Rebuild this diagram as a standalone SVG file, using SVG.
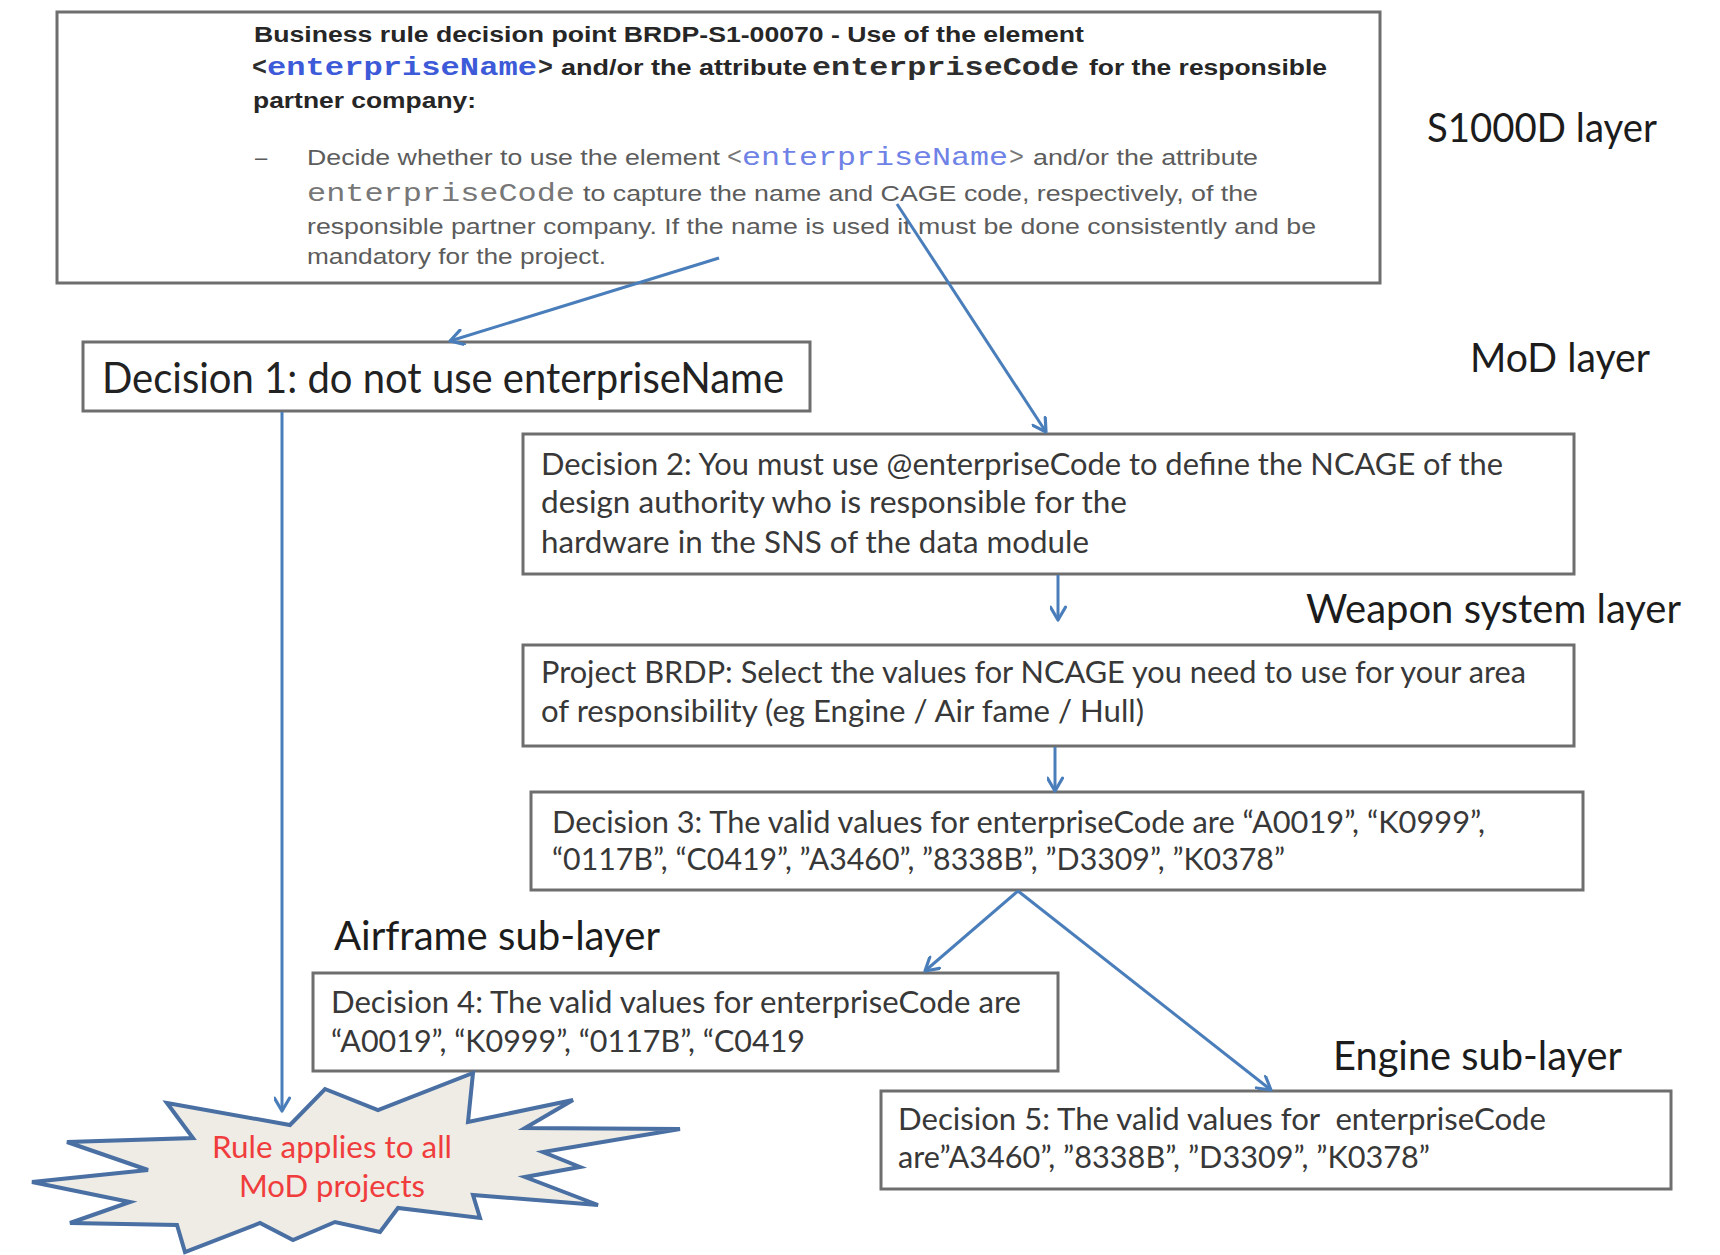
<svg xmlns="http://www.w3.org/2000/svg" width="1720" height="1255" viewBox="0 0 1720 1255">
  <style>
    .box { fill: #ffffff; stroke: #6e6e6e; stroke-width: 3; }
    .layer { font-family: Lato, "Open Sans", "Liberation Sans", sans-serif; font-size: 41px; fill: #1c1c1c; }
    .dec { font-family: Lato, "Open Sans", "Liberation Sans", sans-serif; font-size: 31px; fill: #383838; }
    .big { font-family: Lato, "Open Sans", "Liberation Sans", sans-serif; font-size: 42px; fill: #222222; }
    .bold { font-family: "Liberation Sans", Arial, sans-serif; font-size: 22px; font-weight: bold; fill: #262626; }
    .monob { font-family: "Liberation Mono", "Courier New", monospace; font-size: 25px; font-weight: bold; fill: #2e2e2e; }
    .mblue { fill: #3d5ad8; }
    .grey { font-family: "Liberation Sans", Arial, sans-serif; font-size: 22px; fill: #5c5c5c; }
    .monog { font-family: "Liberation Mono", "Courier New", monospace; font-size: 25px; fill: #777777; }
    .mlight { fill: #6f82e6; }
    .burst-text { font-family: Lato, "Open Sans", "Liberation Sans", sans-serif; font-size: 31px; fill: #f03c3c; text-anchor: middle; }
    .conn { fill: none; stroke: #4a7ebb; stroke-width: 3; marker-end: url(#arrow); }
  </style>
  <defs>
    <marker id="arrow" viewBox="0 0 16 16" refX="14" refY="8" markerWidth="17" markerHeight="17" markerUnits="userSpaceOnUse" orient="auto">
      <path d="M2,1 L14,8 L2,15" fill="none" stroke="#4a7ebb" stroke-width="3" stroke-linecap="round" stroke-linejoin="round"/>
    </marker>
  </defs>

  <rect x="0" y="0" width="1720" height="1255" fill="#ffffff"/>

  <!-- S1000D business rule extract -->
  <g id="node-brdp-s1">
    <rect class="box" x="57" y="12" width="1323" height="271"/>
    <text class="bold" x="254" y="42" textLength="830" lengthAdjust="spacingAndGlyphs">Business rule decision point BRDP-S1-00070 - Use of the element</text>
    <text class="monob" x="252" y="75">&lt;</text>
    <text class="monob mblue" x="267" y="75" textLength="270" lengthAdjust="spacingAndGlyphs">enterpriseName</text>
    <text class="monob" x="538" y="75">&gt;</text>
    <text class="bold" x="561" y="75" textLength="246" lengthAdjust="spacingAndGlyphs">and/or the attribute</text>
    <text class="monob" x="812" y="75" textLength="267" lengthAdjust="spacingAndGlyphs">enterpriseCode</text>
    <text class="bold" x="1089" y="75" textLength="238" lengthAdjust="spacingAndGlyphs">for the responsible</text>
    <text class="bold" x="253" y="108" textLength="223" lengthAdjust="spacingAndGlyphs">partner company:</text>

    <text class="grey" x="255" y="165">–</text>
    <text class="grey" x="307" y="165" textLength="413" lengthAdjust="spacingAndGlyphs">Decide whether to use the element</text>
    <text class="monog" x="727" y="165">&lt;</text>
    <text class="monog mlight" x="742" y="165" textLength="266" lengthAdjust="spacingAndGlyphs">enterpriseName</text>
    <text class="monog" x="1009" y="165">&gt;</text>
    <text class="grey" x="1033" y="165" textLength="225" lengthAdjust="spacingAndGlyphs">and/or the attribute</text>
    <text class="monog" x="307" y="201" textLength="268" lengthAdjust="spacingAndGlyphs">enterpriseCode</text>
    <text class="grey" x="583" y="201" textLength="675" lengthAdjust="spacingAndGlyphs">to capture the name and CAGE code, respectively, of the</text>
    <text class="grey" x="307" y="234" textLength="1009" lengthAdjust="spacingAndGlyphs">responsible partner company. If the name is used it must be done consistently and be</text>
    <text class="grey" x="307" y="264" textLength="299" lengthAdjust="spacingAndGlyphs">mandatory for the project.</text>
  </g>

  <!-- layer labels -->
  <g id="layer-labels">
    <text class="layer" x="1427" y="142" textLength="230" lengthAdjust="spacingAndGlyphs">S1000D layer</text>
    <text class="layer" x="1470" y="372" textLength="180" lengthAdjust="spacingAndGlyphs">MoD layer</text>
    <text class="layer" x="1306" y="623" textLength="375" lengthAdjust="spacingAndGlyphs">Weapon system layer</text>
    <text class="layer" x="334" y="950" textLength="326" lengthAdjust="spacingAndGlyphs">Airframe sub-layer</text>
    <text class="layer" x="1333" y="1070" textLength="289" lengthAdjust="spacingAndGlyphs">Engine sub-layer</text>
  </g>

  <g id="node-decision-1">
    <rect class="box" x="83" y="342" width="727" height="69"/>
    <text class="big" x="102" y="393" textLength="682" lengthAdjust="spacingAndGlyphs">Decision 1: do not use enterpriseName</text>
  </g>

  <g id="node-decision-2">
    <rect class="box" x="523" y="434" width="1051" height="140"/>
    <text class="dec" x="541" y="475" textLength="962" lengthAdjust="spacingAndGlyphs">Decision 2: You must use @enterpriseCode to define the NCAGE of the</text>
    <text class="dec" x="541" y="513" textLength="586" lengthAdjust="spacingAndGlyphs">design authority who is responsible for the</text>
    <text class="dec" x="541" y="553" textLength="548" lengthAdjust="spacingAndGlyphs">hardware in the SNS of the data module</text>
  </g>

  <g id="node-project-brdp">
    <rect class="box" x="523" y="645" width="1051" height="101"/>
    <text class="dec" x="541" y="683" textLength="985" lengthAdjust="spacingAndGlyphs">Project BRDP: Select the values for NCAGE you need to use for your area</text>
    <text class="dec" x="541" y="722" textLength="603" lengthAdjust="spacingAndGlyphs">of responsibility (eg Engine / Air fame / Hull)</text>
  </g>

  <g id="node-decision-3">
    <rect class="box" x="531" y="792" width="1052" height="98"/>
    <text class="dec" x="552" y="833" textLength="933" lengthAdjust="spacingAndGlyphs">Decision 3: The valid values for enterpriseCode are “A0019”, “K0999”,</text>
    <text class="dec" x="552" y="870" textLength="733" lengthAdjust="spacingAndGlyphs">“0117B”, “C0419”, ”A3460”, ”8338B”, ”D3309”, ”K0378”</text>
  </g>

  <g id="node-decision-4">
    <rect class="box" x="313" y="973" width="745" height="98"/>
    <text class="dec" x="331" y="1013" textLength="690" lengthAdjust="spacingAndGlyphs">Decision 4: The valid values for enterpriseCode are</text>
    <text class="dec" x="331" y="1052" textLength="474" lengthAdjust="spacingAndGlyphs">“A0019”, “K0999”, “0117B”, “C0419</text>
  </g>

  <g id="node-decision-5">
    <rect class="box" x="881" y="1091" width="790" height="98"/>
    <text class="dec" x="898" y="1130" textLength="648" lengthAdjust="spacingAndGlyphs" xml:space="preserve">Decision 5: The valid values for  enterpriseCode</text>
    <text class="dec" x="898" y="1168" textLength="532" lengthAdjust="spacingAndGlyphs">are”A3460”, ”8338B”, ”D3309”, ”K0378”</text>
  </g>

  <g id="node-rule-burst">
    <polygon points="167,1103 290,1125 325,1089 378,1110 473,1073 468,1122 573,1100 525,1128 680,1129 543,1152 580,1167 525,1177 598,1205 473,1195 480,1218 398,1208 380,1232 335,1222 293,1240 260,1223 185,1252 177,1225 70,1223 130,1202 32,1182 148,1170 67,1142 193,1138" fill="#eeece5" stroke="#4a6fa3" stroke-width="4" stroke-linejoin="miter"/>
    <text class="burst-text" x="332" y="1158" textLength="240" lengthAdjust="spacingAndGlyphs">Rule applies to all</text>
    <text class="burst-text" x="332" y="1197" textLength="186" lengthAdjust="spacingAndGlyphs">MoD projects</text>
  </g>

  <!-- connectors -->
  <g id="connectors">
    <line class="conn" x1="719" y1="258" x2="450" y2="341"/>
    <line class="conn" x1="897" y1="204" x2="1046" y2="432"/>
    <line class="conn" x1="282" y1="412" x2="282" y2="1111"/>
    <line class="conn" x1="1058" y1="575" x2="1058" y2="620"/>
    <line class="conn" x1="1055" y1="747" x2="1055" y2="791"/>
    <line class="conn" x1="1018" y1="891" x2="925" y2="971"/>
    <line class="conn" x1="1018" y1="891" x2="1271" y2="1090"/>
  </g>
</svg>
